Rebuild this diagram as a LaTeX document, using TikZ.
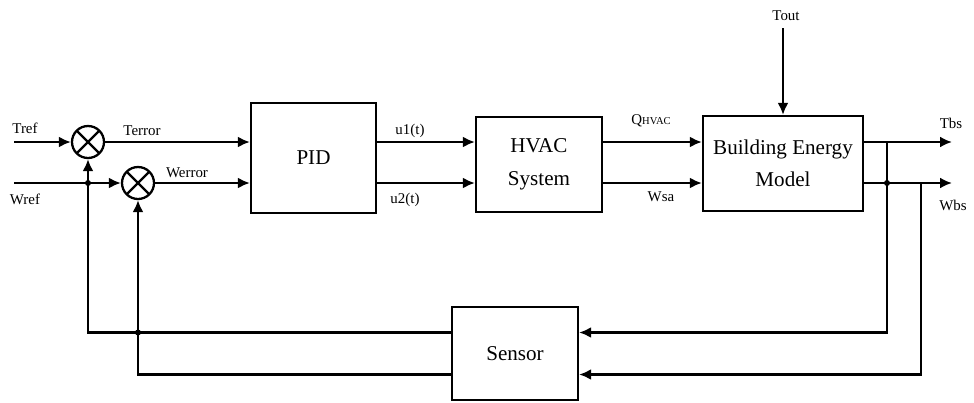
\documentclass[tikz,border=0pt]{standalone}
\usepackage{fontspec}
\setmainfont{Liberation Serif}
\usetikzlibrary{arrows.meta}
\begin{document}
\begin{tikzpicture}[>={Latex[length=2.4mm,width=2.2mm]},line width=1.3pt,
    blk/.style={draw,rectangle,minimum width=2.52cm,minimum height=1.9cm,font=\fontsize{12}{18.5}\selectfont,align=center},
    sumnode/.style={draw,circle,minimum size=0.64cm,inner sep=0pt,path picture={
        \draw (path picture bounding box.north west) -- (path picture bounding box.south east)
              (path picture bounding box.north east) -- (path picture bounding box.south west);}},
    lbl/.style={inner sep=0pt,font=\fontsize{8.5}{10}\selectfont},
    jdot/.style={circle,fill,inner sep=0pt,minimum size=1.2mm}]
    \useasboundingbox (0,0) rectangle (19.48,8.04);
    % blocks
    \node[sumnode] (sum1) at (1.76,5.2) {};
    \node[sumnode] (sum2) at (2.76,4.38) {};
    \node[blk,minimum width=2.5cm,minimum height=2.2cm] (pid) at (6.27,4.88) {PID};
    \node[blk] (hvac) at (10.78,4.75) {HVAC\\System};
    \node[blk,minimum width=3.2cm] (bem) at (15.66,4.77) {Building Energy\\Model};
    \node[blk,minimum height=1.86cm] (sensor) at (10.3,0.97) {Sensor};
    % free ends
    \coordinate (tref) at (0.28,5.2);
    \coordinate (wref) at (0.28,4.38);
    \coordinate (tbs) at (19.04,5.2);
    \coordinate (wbs) at (19.04,4.38);
    \coordinate (tout) at (15.66,7.48);
    \coordinate (fb1) at (17.74,5.2);
    \coordinate (fb2) at (18.42,4.38);
    % forward path
    \draw[->] (tref) -- (sum1);
    \draw[->] (wref) -- (sum2);
    \draw[->] (sum1) -- (pid.west |- sum1);
    \draw[->] (sum2) -- (pid.west |- sum2);
    \draw[->] (pid.east |- sum1) -- (hvac.west |- sum1);
    \draw[->] (pid.east |- sum2) -- (hvac.west |- sum2);
    \draw[->] (hvac.east |- sum1) -- (bem.west |- sum1);
    \draw[->] (hvac.east |- sum2) -- (bem.west |- sum2);
    \draw[->] (bem.east |- sum1) -- (tbs);
    \draw[->] (bem.east |- sum2) -- (wbs);
    \draw[->] (tout) -- (bem);
    % feedback
    \draw[->] (fb1) |- ([yshift=0.42cm]sensor.east);
    \draw[->] (fb2) |- ([yshift=-0.42cm]sensor.east);
    \draw[->] ([yshift=0.42cm]sensor.west) -| (sum1);
    \draw[->] ([yshift=-0.42cm]sensor.west) -| (sum2);
    \node[jdot] (j1) at (1.76,4.38) {};
    \node[jdot] (j2) at (2.76,1.39) {};
    \node[jdot] (j3) at (17.74,4.38) {};
    % labels
    \node[lbl] (treflbl) at (0.5,5.48) {Tref};
    \node[lbl] (wreflbl) at (0.5,4.06) {Wref};
    \node[lbl] (terrlbl) at (2.84,5.42) {Terror};
    \node[lbl] (werrlbl) at (3.74,4.58) {Werror};
    \node[lbl] (u1lbl) at (8.2,5.42) {u1(t)};
    \node[lbl] (u2lbl) at (8.1,4.04) {u2(t)};
    \node[lbl] (qlbl) at (13.02,5.62) {Q{\fontsize{6}{7}\selectfont HVAC}};
    \node[lbl] (wsalbl) at (13.22,4.1) {Wsa};
    \node[lbl] (toutlbl) at (15.72,7.72) {Tout};
    \node[lbl] (tbslbl) at (19.02,5.58) {Tbs};
    \node[lbl] (wbslbl) at (19.06,3.94) {Wbs};
\end{tikzpicture}
\end{document}
